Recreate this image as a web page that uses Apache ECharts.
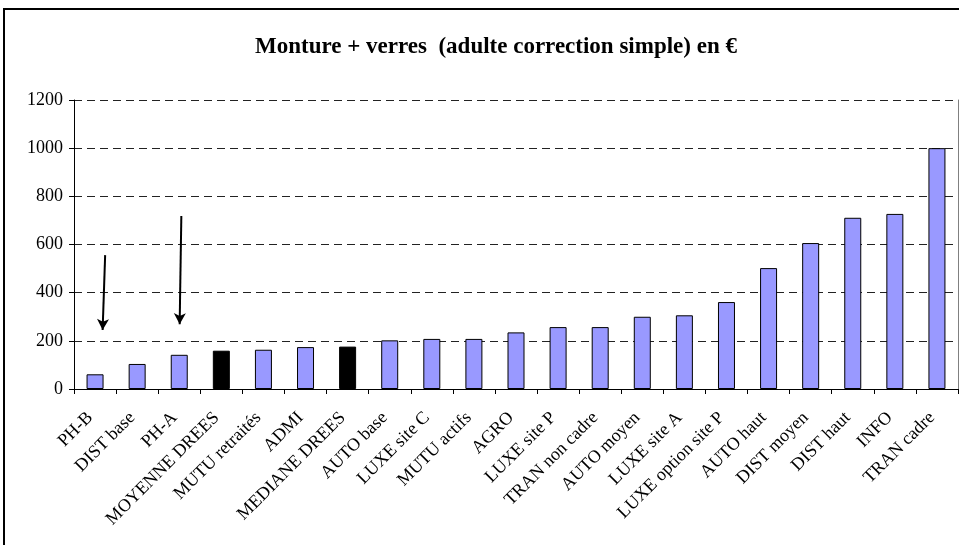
<!DOCTYPE html>
<html>
<head>
<meta charset="utf-8">
<script src="https://cdn.jsdelivr.net/npm/echarts@6/dist/echarts.min.js"></script>
<style>
  html, body { margin: 0; padding: 0; background: #fff; }
  #chart { width: 959px; height: 545px; }
</style>
</head>
<body>
<div id="chart"></div>
<script>
// Cost of frames + lenses (adult, simple correction), in euros
const categories = [
  'PH-B', 'DIST base', 'PH-A', 'MOYENNE DREES', 'MUTU retraités', 'ADMI',
  'MEDIANE DREES', 'AUTO base', 'LUXE site C', 'MUTU actifs', 'AGRO',
  'LUXE site P', 'TRAN non cadre', 'AUTO moyen', 'LUXE site A',
  'LUXE option site P', 'AUTO haut', 'DIST moyen', 'DIST haut', 'INFO', 'TRAN cadre'
];
const values = [
  61, 104, 142, 159, 163, 174,
  176, 202, 208, 208, 235,
  257, 257, 300, 306,
  361, 502, 606, 711, 727, 1000
];
// Reference figures (national average / median) are highlighted
const highlighted = ['MOYENNE DREES', 'MEDIANE DREES'];
const yTicks = [0, 200, 400, 600, 800, 1000, 1200];

// Pointer arrows: [x in category units, value] for tail and tip
const arrowTails = [[0.74, 556], [2.55, 718]];
const arrowTips  = [[0.68, 245], [2.51, 269]];

const FONT = '"Liberation Serif", "Times New Roman", serif';
const chart = echarts.init(document.getElementById('chart'), null, { renderer: 'canvas' });

const barData = categories.map((c, i) => ({
  value: values[i],
  itemStyle: { color: highlighted.includes(c) ? '#000000' : '#9999FF' }
}));

chart.setOption({
  animation: false,
  backgroundColor: '#ffffff',
  title: {
    text: 'Monture + verres  (adulte correction simple) en €',
    left: 250,
    top: 31,
    textStyle: { fontFamily: FONT, fontWeight: 'bold', fontSize: 23, color: '#000' }
  },
  graphic: [{
    type: 'rect',
    shape: { x: 4, y: 9, width: 970, height: 560 },
    style: { fill: 'none', stroke: '#000', lineWidth: 2 },
    silent: true
  }],
  grid: { left: 74, right: 1, top: 100, bottom: 156, containLabel: false },
  xAxis: [{
    type: 'category',
    data: categories,
    boundaryGap: true,
    axisLine: { show: true, lineStyle: { color: '#000', width: 1 } },
    axisTick: { show: true, length: 5, lineStyle: { color: '#000' }, alignWithLabel: false },
    axisLabel: {
      interval: 0, rotate: 45, margin: 21, padding: [0, 7, 0, 0],
      fontFamily: FONT, fontSize: 18, color: '#000'
    },
    splitLine: { show: false }
  }, {
    type: 'value',
    min: 0, max: categories.length,
    show: false
  }],
  yAxis: [{
    type: 'value',
    min: yTicks[0], max: yTicks[yTicks.length - 1], interval: 200,
    axisLine: { show: true, lineStyle: { color: '#000', width: 1 } },
    axisTick: { show: true, length: 5, lineStyle: { color: '#000' } },
    axisLabel: {
      fontFamily: FONT, fontSize: 18, color: '#000', margin: 11,
      formatter: v => String(v)
    },
    splitLine: { show: true, lineStyle: { color: '#222', width: 1, type: [8, 5] } }
  }, {
    type: 'value',
    position: 'right',
    min: yTicks[0], max: yTicks[yTicks.length - 1], interval: 200,
    axisLine: { show: true, lineStyle: { color: '#808080', width: 1 } },
    axisTick: { show: false },
    axisLabel: { show: false },
    splitLine: { show: false }
  }],
  series: [{
    type: 'bar',
    data: barData,
    barWidth: 17,
    itemStyle: { borderColor: '#000', borderWidth: 1 },
    silent: true
  }, {
    type: 'line',
    xAxisIndex: 1,
    yAxisIndex: 0,
    data: [],
    silent: true,
    markLine: {
      silent: true,
      symbol: ['none', 'arrow'],
      symbolSize: [9, 11],
      label: { show: false },
      lineStyle: { color: '#000', width: 2, type: 'solid' },
      data: arrowTails.map((t, i) => [{ coord: t }, { coord: arrowTips[i] }])
    }
  }]
});
</script>
</body>
</html>
